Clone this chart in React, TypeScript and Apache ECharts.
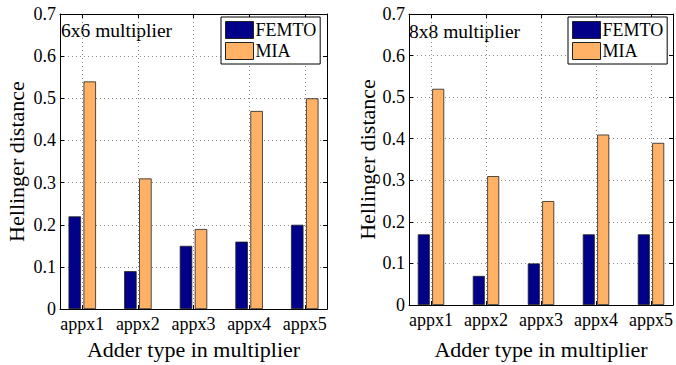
import React, { useEffect, useRef } from "react";
import * as echarts from "echarts";

const categories = ["appx1", "appx2", "appx3", "appx4", "appx5"];
const seriesNames = ["FEMTO", "MIA"];
const femto6x6 = [0.22, 0.09, 0.15, 0.16, 0.2];
const mia6x6 = [0.54, 0.31, 0.19, 0.47, 0.5];
const femto8x8 = [0.17, 0.07, 0.1, 0.17, 0.17];
const mia8x8 = [0.52, 0.31, 0.25, 0.41, 0.39];
const panelTitles = ["6x6 multiplier", "8x8 multiplier"];
const xTitle = "Adder type in multiplier";
const yTitle = "Hellinger distance";

const FONT = "Liberation Serif";
const COLORS = ["#000088", "#FFB266"];

export default function App() {
  const ref = useRef<HTMLDivElement>(null);
  useEffect(() => {
    document.body.style.margin = "0";
    if (!ref.current) return;
    const chart = echarts.init(ref.current, undefined, { renderer: "svg" });

    const grids = [
      { left: 60, top: 14, width: 267, height: 296 },
      { left: 409, top: 14, width: 264, height: 296 },
    ];
    const yNameGaps = [33, 31];
    const xNameGaps = [28, 33];

    const xAxes: any[] = [];
    const yAxes: any[] = [];
    grids.forEach((g, i) => {
      const common = {
        type: "value",
        gridIndex: i,
        min: 0.6,
        max: 5.4,
        axisLine: { show: true, onZero: false, lineStyle: { color: "#000", width: 1 } },
        axisTick: { show: true, inside: true, length: 4, lineStyle: { color: "#000" } },
      };
      xAxes.push({
        ...common,
        position: "bottom",
        name: xTitle,
        nameLocation: "middle",
        nameGap: xNameGaps[i],
        nameTextStyle: { fontFamily: FONT, fontSize: 22, color: "#000" },
        axisLabel: {
          fontFamily: FONT,
          fontSize: 18,
          color: "#000",
          margin: 6,
          showMinLabel: true,
          showMaxLabel: true,
          formatter: (v: number) => {
            const r = Math.round(v);
            return Math.abs(v - r) < 1e-6 && r >= 1 && r <= categories.length ? categories[r - 1] : "";
          },
        },
        splitLine: { show: true, lineStyle: { color: "#888", type: [1, 3], width: 1 } },
      });
      xAxes.push({
        ...common,
        position: "top",
        axisLabel: { show: false },
        splitLine: { show: false },
      });
      const ycommon = {
        type: "value",
        gridIndex: i,
        min: 0,
        max: 0.7,
        interval: 0.1,
        axisLine: { show: true, onZero: false, lineStyle: { color: "#000", width: 1 } },
        axisTick: { show: true, inside: true, length: 4, lineStyle: { color: "#000" } },
      };
      yAxes.push({
        ...ycommon,
        position: "left",
        name: yTitle,
        nameLocation: "middle",
        nameGap: yNameGaps[i],
        nameTextStyle: { fontFamily: FONT, fontSize: 22, color: "#000" },
        axisLabel: {
          fontFamily: FONT,
          fontSize: 18,
          color: "#000",
          margin: 4,
          formatter: (v: number) => (Math.abs(v) < 1e-9 ? "0" : v.toFixed(1)),
        },
        splitLine: { show: true, lineStyle: { color: "#888", type: [1, 3], width: 1 } },
      });
      yAxes.push({
        ...ycommon,
        position: "right",
        axisLabel: { show: false },
        splitLine: { show: false },
      });
    });

    const dataSets = [
      [femto6x6, mia6x6],
      [femto8x8, mia8x8],
    ];
    const series: any[] = [];
    dataSets.forEach((pair, gi) => {
      pair.forEach((vals, si) => {
        series.push({
          type: "bar",
          name: seriesNames[si],
          xAxisIndex: gi * 2,
          yAxisIndex: gi * 2,
          barWidth: gi === 0 ? 12.5 : 12,
          barGap: "20%",
          data: vals.map((v, k) => [k + 1, v]),
          itemStyle: { color: COLORS[si], borderColor: "#222", borderWidth: 0.8 },
        });
      });
    });

    const legendLefts = [221, 568];
    const legends = legendLefts.map((l) => ({
      data: seriesNames,
      left: l,
      top: 17,
      orient: "vertical",
      icon: "rect",
      itemWidth: 28,
      itemHeight: 17,
      itemGap: 3,
      padding: [4, 4, 4, 4],
      borderColor: "#000",
      borderWidth: 1,
      borderRadius: 0,
      backgroundColor: "#fff",
      selectedMode: false,
      itemStyle: { borderColor: "#222", borderWidth: 1 },
      textStyle: { fontFamily: FONT, fontSize: 18, color: "#000", lineHeight: 18, padding: [0, 0, 0, -3] },
    }));

    chart.setOption({
      animation: false,
      backgroundColor: "#fff",
      grid: grids,
      xAxis: xAxes,
      yAxis: yAxes,
      legend: legends,
      series,
      graphic: [
        {
          type: "text",
          left: 61,
          top: 20,
          style: { text: panelTitles[0], fontFamily: FONT, fontSize: 19.5, fill: "#000" },
        },
        {
          type: "text",
          left: 409,
          top: 21,
          style: { text: panelTitles[1], fontFamily: FONT, fontSize: 19.5, fill: "#000" },
        },
      ],
    });
    return () => chart.dispose();
  }, []);
  return (
    <div
      ref={ref}
      style={{ position: "absolute", left: 0, top: 0, width: 676, height: 365 }}
    />
  );
}
